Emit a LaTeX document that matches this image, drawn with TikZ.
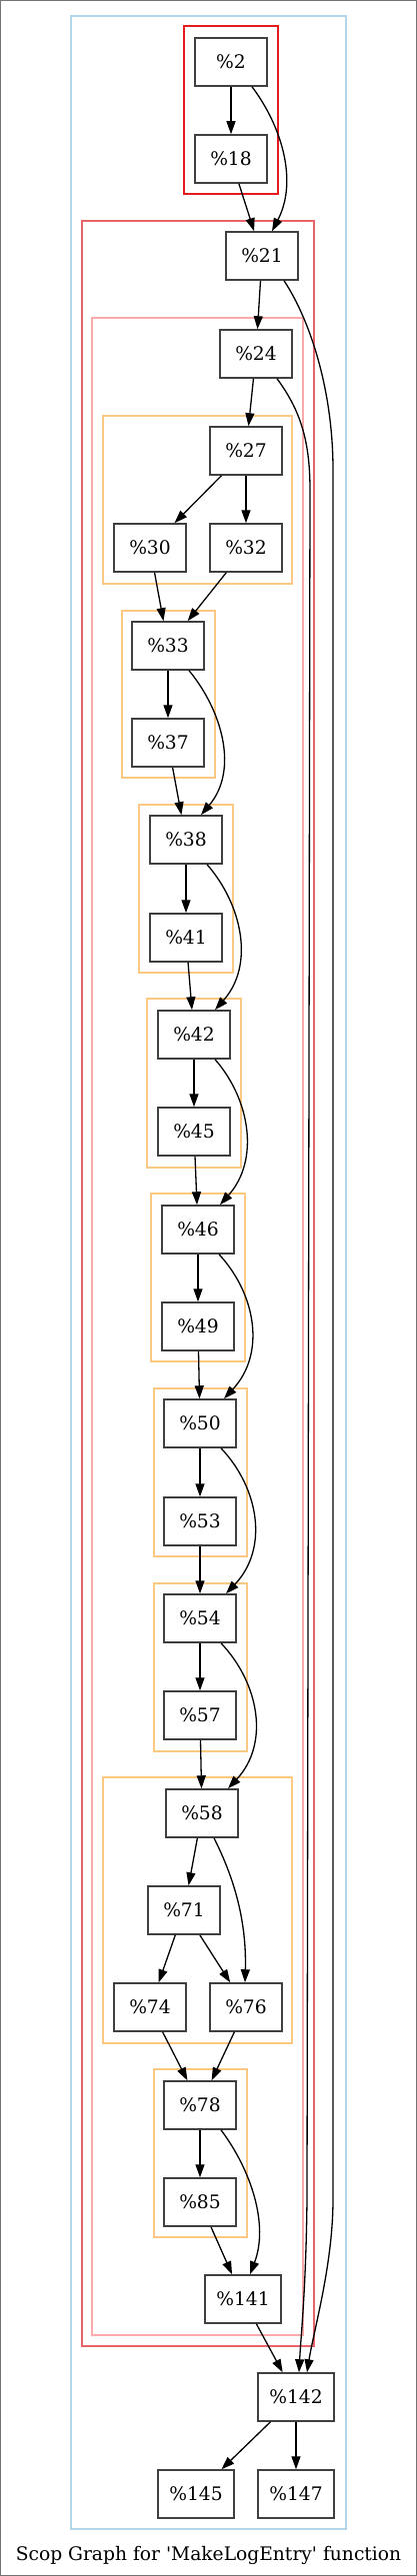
\documentclass[tikz,border=0pt]{standalone}
\usepackage{fontspec}
\setmainfont{DejaVu Serif}[Ligatures=TeXOff]
\usetikzlibrary{arrows.meta}
\definecolor{cblue}{RGB}{180,213,232}
\definecolor{cred}{RGB}{228,26,28}
\definecolor{cred2}{RGB}{232,100,105}
\definecolor{cpink}{RGB}{250,170,170}
\definecolor{corange}{RGB}{253,200,130}
\tikzset{
  bb/.style={draw=black!75, line width=1.5pt, rectangle, minimum width=72pt, minimum height=48pt, inner sep=0pt, font=\fontsize{18.67}{22}\selectfont},
  wb/.style={bb, minimum width=76pt},
  edge/.style={draw=black, line width=1.3pt, -{Triangle[length=13pt,width=9pt]}},
  clu/.style={line width=1.4pt},
}
\begin{document}
\begin{tikzpicture}[x=1pt,y=-1pt]
\useasboundingbox (0,0) rectangle (417,2577);
\draw[black!55, line width=1.3pt] (0.65,0.65) rectangle (416.35,2576.35);
% clusters
\draw[clu, cblue, line width=1.6pt] (71,16) rectangle (346,2530);
\draw[clu, cred] (184,26) rectangle (278,194);
\draw[clu, cred2, line width=1.9pt] (82,221) rectangle (314,2347);
\draw[clu, cpink] (92,318) rectangle (303,2336);
\draw[clu, corange] (103,416) rectangle (292,584);
\draw[clu, corange] (122,611) rectangle (215,778);
\draw[clu, corange] (139,805) rectangle (233,973);
\draw[clu, corange] (147,999) rectangle (241,1168);
\draw[clu, corange] (151,1194) rectangle (245,1362);
\draw[clu, corange] (154,1389) rectangle (247,1557);
\draw[clu, corange] (154,1584) rectangle (247,1752);
\draw[clu, corange] (103,1778) rectangle (292,2044);
\draw[clu, corange] (154,2070) rectangle (247,2238);
% nodes
\node[bb] (n2) at (231,62) {\%2};
\node[bb] (n18) at (231,159) {\%18};
\node[bb] (n21) at (262,256) {\%21};
\node[bb] (n24) at (256,354) {\%24};
\node[bb] (n27) at (246,451) {\%27};
\node[bb] (n30) at (150,548) {\%30};
\node[bb] (n32) at (246,548) {\%32};
\node[bb] (n33) at (168,646) {\%33};
\node[bb] (n37) at (168,743) {\%37};
\node[bb] (n38) at (186,840) {\%38};
\node[bb] (n41) at (186,938) {\%41};
\node[bb] (n42) at (194,1035) {\%42};
\node[bb] (n45) at (194,1132) {\%45};
\node[bb] (n46) at (198,1230) {\%46};
\node[bb] (n49) at (198,1327) {\%49};
\node[bb] (n50) at (200,1424) {\%50};
\node[bb] (n53) at (200,1522) {\%53};
\node[bb] (n54) at (200,1619) {\%54};
\node[bb] (n57) at (200,1716) {\%57};
\node[bb] (n58) at (202,1814) {\%58};
\node[bb] (n71) at (184,1911) {\%71};
\node[bb] (n74) at (150,2008) {\%74};
\node[bb] (n76) at (246,2008) {\%76};
\node[bb] (n78) at (200,2106) {\%78};
\node[bb] (n85) at (200,2203) {\%85};
\node[wb] (n141) at (243,2300) {\%141};
\node[wb] (n142) at (296,2398) {\%142};
\node[wb] (n145) at (196,2495) {\%145};
\node[wb] (n147) at (296,2495) {\%147};
\node[font=\fontsize{18.67}{22}\selectfont] (cap) at (208.5,2556) {Scop Graph for 'MakeLogEntry' function};
% straight edges
\draw[edge] (n2) -- (n18);
\draw[edge] (n18) -- (n21);
\draw[edge] (n21) -- (n24);
\draw[edge] (n24) -- (n27);
\draw[edge] (n27) -- (n30);
\draw[edge] (n27) -- (n32);
\draw[edge] (n30) -- (n33);
\draw[edge] (n32) -- (n33);
\draw[edge] (n33) -- (n37);
\draw[edge] (n37) -- (n38);
\draw[edge] (n38) -- (n41);
\draw[edge] (n41) -- (n42);
\draw[edge] (n42) -- (n45);
\draw[edge] (n45) -- (n46);
\draw[edge] (n46) -- (n49);
\draw[edge] (n49) -- (n50);
\draw[edge] (n50) -- (n53);
\draw[edge] (n53) -- (n54);
\draw[edge] (n54) -- (n57);
\draw[edge] (n57) -- (n58);
\draw[edge] (n58) -- (n71);
\draw[edge] (n71) -- (n74);
\draw[edge] (n71) -- (n76);
\draw[edge] (n74) -- (n78);
\draw[edge] (n76) -- (n78);
\draw[edge] (n78) -- (n85);
\draw[edge] (n85) -- (n141);
\draw[edge] (n141) -- (n142);
\draw[edge] (n142) -- (n145);
\draw[edge] (n142) -- (n147);
% curved edges
\draw[edge] ([xshift=21pt]n2.south) .. controls +(30,40) and +(26,-50) .. ([xshift=10pt]n21.north);
\draw[edge] ([xshift=21pt]n33.south) .. controls +(33,40) and +(38,-45) .. ([xshift=15pt]n38.north);
\draw[edge] ([xshift=21pt]n38.south) .. controls +(35,40) and +(40,-45) .. ([xshift=21pt]n42.north);
\draw[edge] ([xshift=21pt]n42.south) .. controls +(35,40) and +(40,-45) .. ([xshift=22pt]n46.north);
\draw[edge] ([xshift=21pt]n46.south) .. controls +(37,40) and +(42,-45) .. ([xshift=24pt]n50.north);
\draw[edge] ([xshift=21pt]n50.south) .. controls +(38,40) and +(43,-45) .. ([xshift=26pt]n54.north);
\draw[edge] ([xshift=21pt]n54.south) .. controls +(38,40) and +(42,-45) .. ([xshift=26pt]n58.north);
\draw[edge] ([xshift=12pt]n58.south) .. controls +(15,30) and +(2,-70) .. ([xshift=-1pt]n76.north);
\draw[edge] ([xshift=21pt]n78.south) .. controls +(30,40) and +(19,-50) .. ([xshift=7pt]n141.north);
% long edges to %142
\draw[edge] ([xshift=22pt]n21.south) .. controls (310,320) and (333,390) .. (333,470) -- (333,2200) .. controls (333,2265) and (314,2330) .. ([xshift=11pt]n142.north);
\draw[edge] ([xshift=21pt]n24.south) .. controls (300,410) and (310,440) .. (310,490) -- (307,2200) .. controls (306,2290) and (301,2335) .. ([xshift=3pt]n142.north);
\end{tikzpicture}
\end{document}
